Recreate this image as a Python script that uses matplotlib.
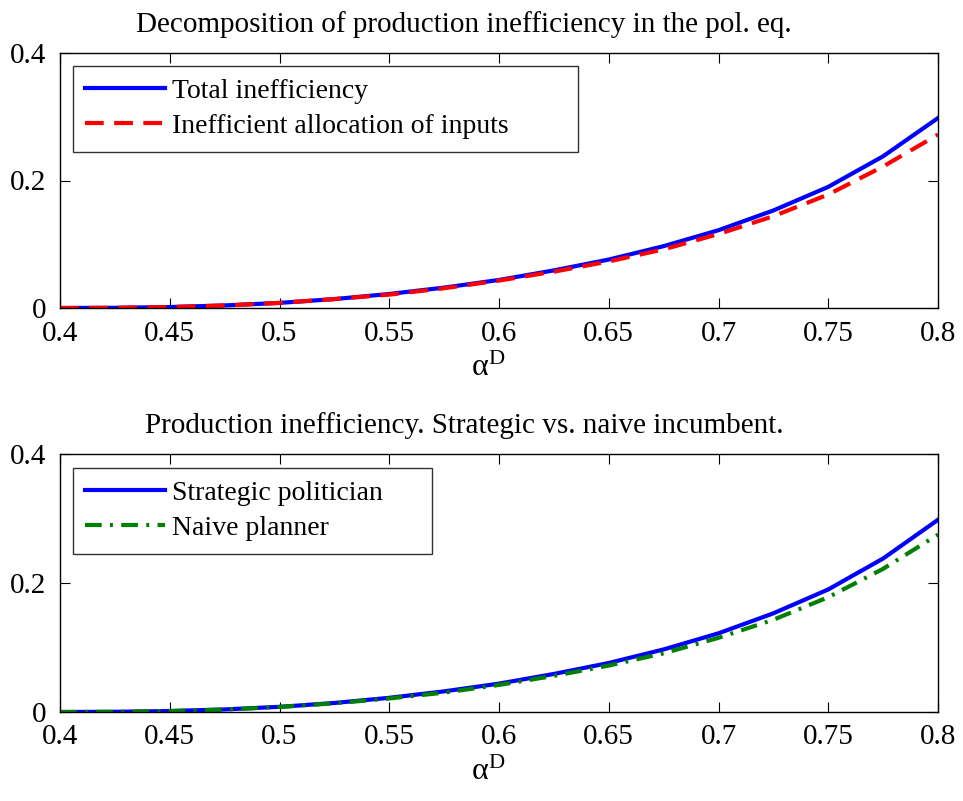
import numpy as np
import matplotlib
matplotlib.use("Agg")
import matplotlib.pyplot as plt
from matplotlib.ticker import FormatStrFormatter

plt.rcParams['font.family'] = ['Liberation Serif', 'DejaVu Serif']
plt.rcParams['mathtext.fontset'] = 'custom'
plt.rcParams['mathtext.rm'] = 'Liberation Serif'
plt.rcParams['mathtext.it'] = 'Liberation Serif'

# data
alpha = [0.4, 0.425, 0.45, 0.475, 0.5, 0.525, 0.55, 0.575, 0.6,
         0.625, 0.65, 0.675, 0.7, 0.725, 0.75, 0.775, 0.8]
total = [0.0, 0.0003, 0.0015, 0.004, 0.008, 0.014, 0.022, 0.032, 0.044,
         0.059, 0.076, 0.097, 0.122, 0.153, 0.190, 0.238, 0.298]
alloc = [0.0, 0.0003, 0.0015, 0.004, 0.008, 0.014, 0.021, 0.031, 0.043,
         0.057, 0.073, 0.092, 0.116, 0.144, 0.178, 0.222, 0.272]
strategic = total
naive = [0.0, 0.0003, 0.0014, 0.0038, 0.0078, 0.0135, 0.021, 0.030, 0.042,
         0.056, 0.072, 0.091, 0.115, 0.143, 0.178, 0.222, 0.275]

xticks = [0.4, 0.45, 0.5, 0.55, 0.6, 0.65, 0.7, 0.75, 0.8]
yticks = [0, 0.2, 0.4]

fig = plt.figure(figsize=(9.63, 8.01), dpi=100)
ax1 = fig.add_axes([60/963, 1-308/801, 878/963, 255/801])
ax2 = fig.add_axes([60/963, 1-712/801, 878/963, 258/801])


def style(ax, title):
    ax.set_xlim(0.4, 0.8)
    ax.set_ylim(0, 0.4)
    ax.set_xticks(xticks)
    ax.set_yticks(yticks)
    ax.xaxis.set_major_formatter(FormatStrFormatter('%g'))
    ax.yaxis.set_major_formatter(FormatStrFormatter('%g'))
    ax.tick_params(direction='in', top=True, right=True, length=7, width=0.8,
                   labelsize=21)
    ax.tick_params(axis='x', pad=9)
    ax.tick_params(axis='y', pad=10)
    ax.set_xlabel(r'$\mathrm{\alpha}^{\mathrm{D}}$', fontsize=23, labelpad=5, x=0.488)
    ax.set_title(title, fontsize=21, pad=15, x=0.46)
    for s in ax.spines.values():
        s.set_linewidth(1.0)


def legend(ax, top, width):
    leg = ax.legend(loc='upper left', bbox_to_anchor=(0.0148, 0, width, top),
                    mode='expand', fontsize=20, frameon=True, fancybox=False,
                    edgecolor='black', handlelength=2.85, borderpad=0.45,
                    labelspacing=0.35, handletextpad=0.25, borderaxespad=0)
    leg.get_frame().set_linewidth(1.0)


ax1.plot(alpha, total, color='blue', linewidth=3.0, label='Total inefficiency')
ax1.plot(alpha, alloc, color='red', linewidth=3.0, dashes=(4.5, 2.5),
         label='Inefficient allocation of inputs')
style(ax1, 'Decomposition of production inefficiency in the pol. eq.')
legend(ax1, 0.949, 0.575)

ax2.plot(alpha, strategic, color='blue', linewidth=3.0, label='Strategic politician')
ax2.plot(alpha, naive, color='green', linewidth=3.0, dashes=(4, 2, 0.7, 2),
         label='Naive planner')
style(ax2, 'Production inefficiency. Strategic vs. naive incumbent.')
legend(ax2, 0.946, 0.409)

fig.savefig('out.png', dpi=100)
